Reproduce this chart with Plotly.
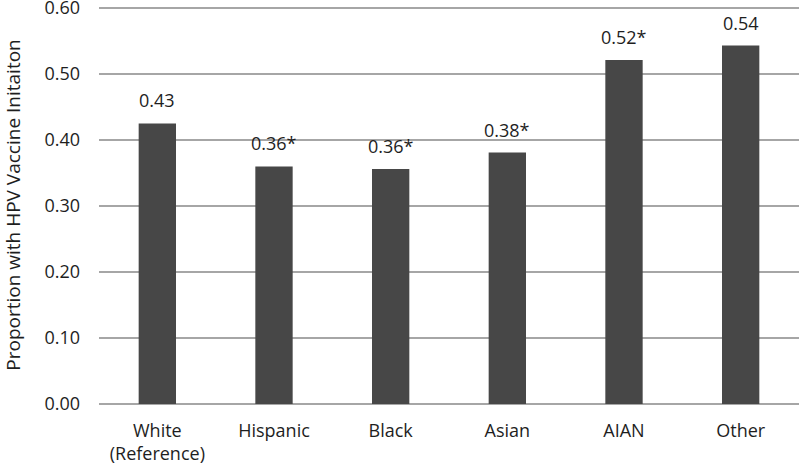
import plotly.graph_objects as go

categories = ["White<br>(Reference)", "Hispanic", "Black", "Asian", "AIAN", "Other"]
values = [0.425, 0.36, 0.356, 0.381, 0.521, 0.543]
labels = ["0.43", "0.36*", "0.36*", "0.38*", "0.52*", "0.54"]
yticks = [0.0, 0.1, 0.2, 0.3, 0.4, 0.5, 0.6]
yticktext = ["0.00", "0.10", "0.20", "0.30", "0.40", "0.50", "0.60"]

FONT = "Open Sans"
TXT = "#1e1e1e"
FS = 18

fig = go.Figure()
fig.add_trace(go.Bar(x=categories, y=values, marker=dict(color="#474747", line=dict(width=0)),
                     hoverinfo="skip"))

for c, v, t in zip(categories, values, labels):
    fig.add_annotation(x=c, y=v, text=t, showarrow=False, yanchor="bottom", yshift=9,
                       font=dict(family=FONT, size=FS, color=TXT))

fig.update_layout(
    width=800, height=469,
    margin=dict(l=99, r=1, t=6, b=65, autoexpand=False),
    paper_bgcolor="white", plot_bgcolor="white",
    bargap=0.68, showlegend=False,
    font=dict(family=FONT, size=FS, color=TXT),
)
fig.update_xaxes(showgrid=False, showline=False, ticks="", ticklabelstandoff=14,
                 automargin=False, tickfont=dict(family=FONT, size=FS, color=TXT))
fig.update_yaxes(range=[0, 0.603], tickvals=yticks, ticktext=yticktext,
                 showgrid=True, gridcolor="#a6a6a6", gridwidth=2,
                 zeroline=True, zerolinecolor="#a6a6a6", zerolinewidth=2,
                 showline=False, ticks="", ticklabelstandoff=18, automargin=False,
                 ticklabeloverflow="allow",
                 tickfont=dict(family=FONT, size=FS, color=TXT),
                 title=dict(text="Proportion with HPV Vaccine Initaiton", standoff=24,
                            font=dict(family=FONT, size=19, color=TXT)))

fig.write_html("out.html", config={"displayModeBar": False},
               post_script="document.body.style.margin='0';")
